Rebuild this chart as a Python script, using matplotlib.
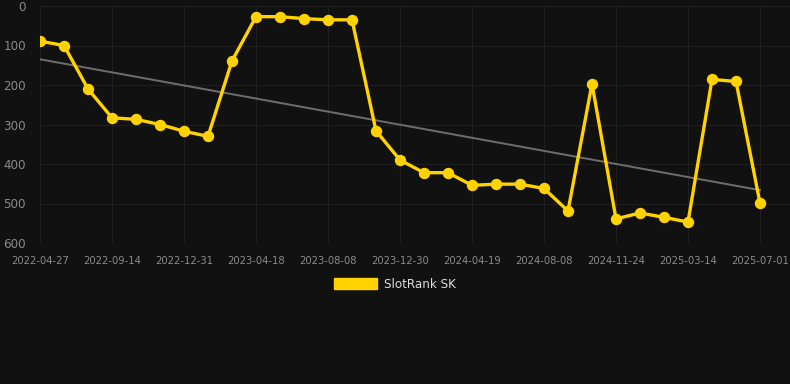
import numpy as np
import matplotlib.pyplot as plt
from matplotlib.patches import Patch

# rank per observation (lower is better, axis inverted)
ranks = [89, 100, 210, 283, 287, 300, 317, 330, 139, 27,
         27, 32, 35, 35, 316, 390, 422, 422, 454, 451,
         451, 462, 519, 197, 539, 524, 535, 547, 186, 191,
         499]
tick_labels = ['2022-04-27', '2022-09-14', '2022-12-31', '2023-04-18',
               '2023-08-08', '2023-12-30', '2024-04-19', '2024-08-08',
               '2024-11-24', '2025-03-14', '2025-07-01']
series_name = 'SlotRank SK'

bg = '#111111'
gold = '#FFD200'

x = np.arange(len(ranks))

fig = plt.figure(figsize=(7.9, 3.84), dpi=100, facecolor=bg)
ax = fig.add_axes([40 / 790, 1 - 243 / 384, 750 / 790, 237 / 384])
ax.set_facecolor(bg)

# trend line (least squares)
k, b = np.polyfit(x, ranks, 1)
ax.plot(x, k * x + b, color='#6e6e6e', lw=1.4, zorder=2)

ax.plot(x, ranks, color=gold, lw=2.4, marker='o', ms=7.2,
        markerfacecolor=gold, markeredgecolor=gold, zorder=3)

ax.set_ylim(600, 0)
ax.set_xlim(0, 31.25)
ax.set_yticks([0, 100, 200, 300, 400, 500, 600])
ax.set_xticks(x[::3])
ax.set_xticklabels(tick_labels)

ax.grid(True, color='#1f1f1f', lw=0.8)
ax.set_axisbelow(True)
for s in ax.spines.values():
    s.set_visible(False)
ax.tick_params(axis='x', length=0, pad=9, labelsize=7.2, labelcolor='#8a8a8a')
ax.tick_params(axis='y', length=0, pad=10, labelsize=8.6, labelcolor='#8a8a8a')

handle = Patch(facecolor=gold, edgecolor=gold)
fig.legend([handle], [series_name], loc='center', bbox_to_anchor=(395 / 790, 1 - 284 / 384),
           frameon=False, fontsize=8.6, labelcolor='#dddddd',
           handlelength=3.6, handleheight=1.1, handletextpad=0.6)

fig.savefig('out.png', dpi=100, facecolor=bg)
